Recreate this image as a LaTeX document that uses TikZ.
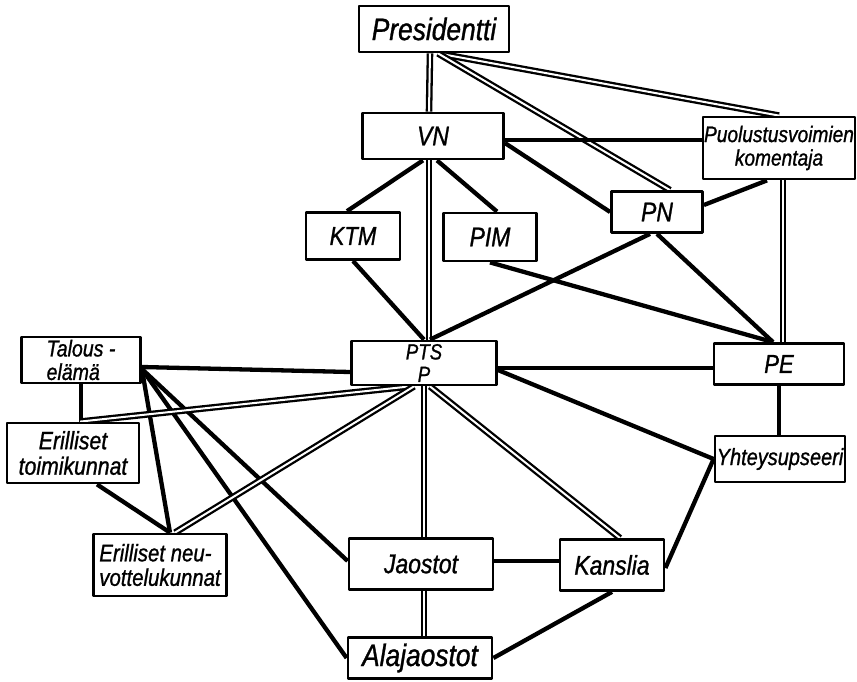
\documentclass[tikz,border=0pt]{standalone}
\usepackage{fontspec}
\setsansfont[FakeStretch=0.85,FakeBold=1]{Liberation Sans}
\usetikzlibrary{positioning,calc}
\pgfdeclarelayer{bg}
\pgfsetlayers{bg,main}
\newcommand{\lettering}[2]{\sffamily\itshape\fontsize{#1}{#2}\selectfont}

\begin{document}
\begin{tikzpicture}[x=1pt,y=-1pt,line join=round,
    box/.style={draw,fill=white,line width=2.8pt,rectangle,inner sep=0pt,align=center,font=\lettering{27}{27}},
    lnk/.style={line width=4.3pt},
    dbl/.style={double,line width=2.3pt,double distance=2pt}]
  \useasboundingbox (0,0) rectangle (857,682);
  \node[box,minimum width=150pt,minimum height=46pt,font=\lettering{31}{31}] (pres) at (434,29) {Presidentti};
  \node[box,minimum width=141pt,minimum height=46pt] (vn) at (433,136) {VN};
  \node[box,minimum width=152pt,minimum height=62pt,font=\lettering{22.5}{23.5}] (pk) at (779,148) {Puolustusvoimien\\komentaja};
  \node[box,minimum width=91pt,minimum height=41pt] (pn) at (657,212) {PN};
  \node[box,minimum width=94pt,minimum height=47pt,font=\lettering{26}{26}] (ktm) at (353,236) {KTM};
  \node[box,minimum width=93pt,minimum height=48pt] (pim) at (490,237) {PIM};
  \node[box,minimum width=145pt,minimum height=44pt,font=\lettering{22}{22.5}] (pts) at (424,363) {PTS\\P};
  \node[box,minimum width=130pt,minimum height=41pt,font=\lettering{26}{26}] (pe) at (779,364) {PE};
  \node[box,minimum width=130pt,minimum height=46pt,font=\lettering{23.5}{23.5}] (yht) at (780,459) {Yhteysupseeri};
  \node[box,minimum width=119pt,minimum height=46pt,font=\lettering{23}{23.5},align=left] (tal) at (81,360) {Talous -\\elämä};
  \node[box,minimum width=132pt,minimum height=60pt,font=\lettering{25}{25.5}] (et) at (73,453) {Erilliset\\toimikunnat};
  \node[box,minimum width=133pt,minimum height=62pt,font=\lettering{24}{24.5},align=left] (en) at (160,565) {Erilliset neu-\\vottelukunnat};
  \node[box,minimum width=144pt,minimum height=51pt] (jao) at (421,564) {Jaostot};
  \node[box,minimum width=104pt,minimum height=51pt] (kan) at (612,565) {Kanslia};
  \node[box,minimum width=144pt,minimum height=41pt,font=\lettering{31}{31}] (ala) at (420,658) {Alajaostot};

  \begin{pgfonlayer}{bg}
  \path ([xshift=-4pt]pres.south) edge[dbl] ([xshift=-4pt]vn.north)
        ([xshift=4pt]pres.south) edge[dbl] (pk.north)
        ([xshift=4pt]pres.south) edge[dbl] ([xshift=13pt]pn.north)
        ([yshift=-4pt]vn.east) edge[lnk] ([yshift=-4pt]vn.east -| pk.west)
        ([yshift=-7pt]vn.east) edge[lnk] (pn.west)
        ([xshift=-10pt]vn.south) edge[lnk] ([xshift=-6pt]ktm.north)
        ([xshift=4pt]vn.south) edge[lnk] ([xshift=7pt]pim.north)
        ([xshift=-4pt]vn.south) edge[dbl] ([xshift=5pt]pts.north)
        (ktm.south) edge[lnk] (pts.north)
        ([xshift=-7pt]pn.south) edge[lnk] ([xshift=6pt]pts.north)
        (pn.south) edge[lnk] ([xshift=-6pt]pe.north)
        (pim.south) edge[lnk] ([xshift=-6pt]pe.north)
        ([xshift=-12pt]pk.south) edge[lnk] ([yshift=7pt]pn.east)
        ([xshift=4pt]pk.south) edge[dbl] ([xshift=4pt]pe.north)
        ([yshift=-5pt]pts.east) edge[lnk] ([yshift=-5pt]pts.east -| pe.west)
        ([yshift=-7pt]pts.east) edge[lnk] (yht.west)
        (pe.south) edge[lnk] (pe.south |- yht.north)
        ([yshift=-7pt]tal.east) edge[lnk] ([yshift=-9pt]pts.west)
        (tal.south) edge[lnk] (tal.south |- et.north)
        ([yshift=-9pt]tal.east) edge[lnk] ([xshift=10pt]en.north)
        ([yshift=-9pt]tal.east) edge[lnk] ([yshift=3pt]jao.west)
        ([yshift=-9pt]tal.east) edge[lnk] (ala.west)
        ([xshift=-14pt]pts.south) edge[dbl] ([xshift=7pt]et.north)
        ([xshift=-10pt]pts.south) edge[dbl] ([xshift=15pt]en.north)
        ([xshift=24pt]et.south) edge[lnk] ([xshift=10pt]en.north)
        (pts.south) edge[dbl] (pts.south |- jao.north)
        ([xshift=6pt]pts.south) edge[dbl] ([xshift=8pt]kan.north)
        ([yshift=3pt]jao.east) edge[lnk] ([yshift=3pt]jao.east -| kan.west)
        ([xshift=3pt]jao.south) edge[dbl] ([xshift=3pt]jao.south |- ala.north)
        (kan.south) edge[lnk] (ala.east)
        ([yshift=-3pt]kan.east) edge[lnk] (yht.west);
  \end{pgfonlayer}
\end{tikzpicture}
\end{document}
